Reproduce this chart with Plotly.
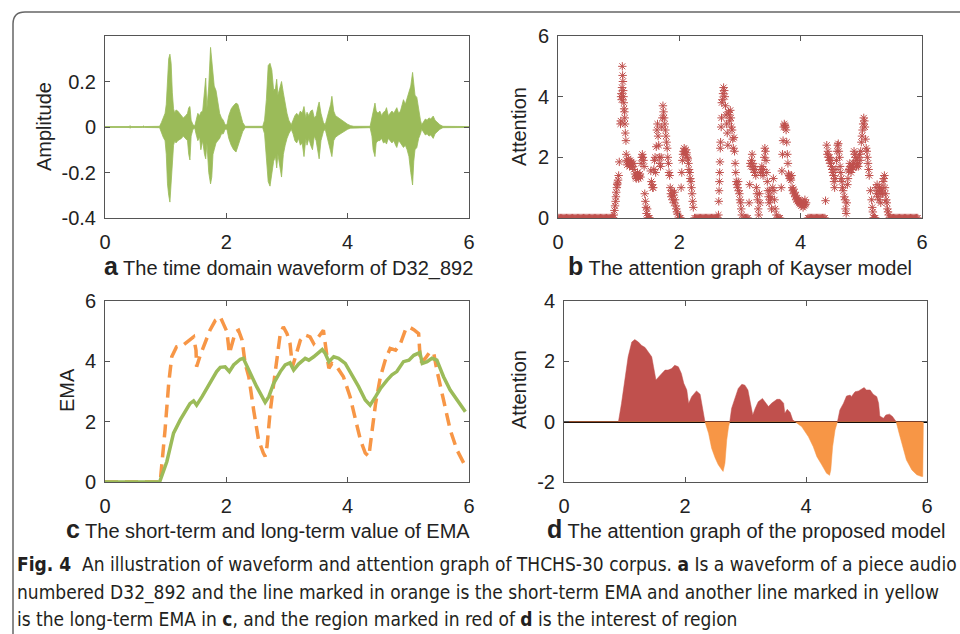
import plotly.graph_objects as go

# ---------------- data ----------------
# (a) waveform envelope of D32_892 (time s, upper / lower amplitude)
A_T = [0.00, 0.40, 0.41, 0.43, 0.62, 0.63, 0.65, 0.90, 0.93, 0.96, 0.99, 1.01, 1.03, 1.05, 1.07, 1.09,
       1.11, 1.13, 1.15, 1.17, 1.20, 1.23, 1.26, 1.29, 1.33, 1.36, 1.38, 1.40, 1.42, 1.45, 1.48, 1.50,
       1.53, 1.56, 1.58, 1.61, 1.64, 1.66, 1.68, 1.71, 1.74, 1.76, 1.78, 1.80, 1.83, 1.86, 1.89, 1.92,
       1.95, 1.98, 2.01, 2.04, 2.08, 2.12, 2.16, 2.19, 2.23, 2.27, 2.31, 2.60, 2.63, 2.66, 2.69, 2.72,
       2.75, 2.78, 2.81, 2.83, 2.85, 2.88, 2.91, 2.94, 2.97, 3.00, 3.03, 3.07, 3.10, 3.13, 3.16, 3.19,
       3.22, 3.25, 3.28, 3.31, 3.33, 3.36, 3.39, 3.42, 3.45, 3.48, 3.51, 3.53, 3.56, 3.60, 3.63, 3.66,
       3.69, 3.72, 3.74, 3.77, 3.80, 3.85, 3.90, 3.95, 4.00, 4.05, 4.10, 4.37, 4.40, 4.42, 4.45, 4.47,
       4.50, 4.53, 4.56, 4.59, 4.62, 4.64, 4.67, 4.70, 4.73, 4.76, 4.79, 4.81, 4.84, 4.87, 4.90, 4.92,
       4.95, 4.98, 5.01, 5.04, 5.07, 5.09, 5.11, 5.14, 5.17, 5.20, 5.22, 5.25, 5.28, 5.31, 5.34, 5.37,
       5.41, 5.44, 5.48, 5.52, 5.57, 6.00]
A_UP = [0.002, 0.002, 0.006, 0.002, 0.002, 0.005, 0.002, 0.003, 0.02, 0.04, 0.06, 0.10, 0.22, 0.30, 0.32, 0.28,
        0.15, 0.08, 0.06, 0.075, 0.07, 0.06, 0.05, 0.04, 0.05, 0.06, 0.085, 0.09, 0.03, 0.01, 0.005, 0.03,
        0.06, 0.05, 0.065, 0.07, 0.16, 0.215, 0.08, 0.18, 0.35, 0.30, 0.22, 0.18, 0.16, 0.10, 0.06, 0.04,
        0.03, 0.01, 0.01, 0.05, 0.08, 0.095, 0.105, 0.10, 0.06, 0.02, 0.003, 0.003, 0.03, 0.12, 0.27, 0.28,
        0.25, 0.16, 0.17, 0.21, 0.14, 0.17, 0.20, 0.15, 0.10, 0.06, 0.03, 0.01, 0.03, 0.05, 0.06, 0.05,
        0.07, 0.06, 0.09, 0.04, 0.065, 0.05, 0.07, 0.075, 0.04, 0.05, 0.09, 0.11, 0.06, 0.02, 0.01, 0.04,
        0.07, 0.10, 0.135, 0.07, 0.05, 0.04, 0.03, 0.02, 0.012, 0.006, 0.003, 0.003, 0.04, 0.08, 0.105, 0.07,
        0.06, 0.07, 0.05, 0.065, 0.07, 0.085, 0.05, 0.06, 0.07, 0.06, 0.075, 0.085, 0.06, 0.07, 0.10, 0.12,
        0.10, 0.13, 0.15, 0.18, 0.24, 0.17, 0.14, 0.13, 0.07, 0.03, 0.01, 0.02, 0.035, 0.03, 0.04, 0.035,
        0.048, 0.03, 0.02, 0.01, 0.003, 0.002]
A_LO = [-0.002, -0.002, -0.005, -0.002, -0.002, -0.004, -0.002, -0.003, -0.02, -0.045, -0.06, -0.12, -0.25, -0.30, -0.33, -0.26,
        -0.17, -0.08, -0.06, -0.07, -0.06, -0.055, -0.05, -0.04, -0.05, -0.06, -0.12, -0.145, -0.04, -0.01, -0.005, -0.03,
        -0.06, -0.045, -0.10, -0.06, -0.12, -0.14, -0.07, -0.20, -0.25, -0.22, -0.12, -0.10, -0.07, -0.06, -0.05, -0.03,
        -0.03, -0.01, -0.01, -0.05, -0.08, -0.10, -0.11, -0.09, -0.05, -0.02, -0.003, -0.003, -0.03, -0.15, -0.24, -0.26,
        -0.20, -0.15, -0.13, -0.18, -0.12, -0.16, -0.22, -0.12, -0.08, -0.05, -0.03, -0.01, -0.03, -0.06, -0.07, -0.05,
        -0.08, -0.07, -0.13, -0.05, -0.08, -0.05, -0.08, -0.10, -0.04, -0.06, -0.10, -0.14, -0.06, -0.02, -0.01, -0.05,
        -0.08, -0.11, -0.13, -0.06, -0.045, -0.035, -0.025, -0.018, -0.01, -0.005, -0.003, -0.003, -0.04, -0.10, -0.13, -0.07,
        -0.06, -0.06, -0.05, -0.07, -0.065, -0.075, -0.05, -0.06, -0.07, -0.06, -0.08, -0.09, -0.06, -0.07, -0.08, -0.09,
        -0.08, -0.10, -0.13, -0.20, -0.255, -0.15, -0.10, -0.09, -0.05, -0.03, -0.01, -0.02, -0.035, -0.03, -0.04, -0.035,
        -0.05, -0.03, -0.02, -0.01, -0.003, -0.002]

# (b) Kayser attention: non-zero samples
B_T = [0.92, 0.93, 0.94, 0.95, 0.955, 0.96, 0.97, 0.975, 0.98, 0.99, 1.00, 1.01,
       1.03, 1.035, 1.04, 1.045, 1.05, 1.055, 1.06, 1.065, 1.07, 1.075, 1.08, 1.085, 1.09, 1.095, 1.10, 1.105, 1.11, 1.12, 1.125, 1.13,
       1.14, 1.15, 1.16, 1.17, 1.18, 1.19, 1.20, 1.21, 1.22, 1.23, 1.24, 1.25,
       1.27, 1.28, 1.29, 1.30, 1.31, 1.32, 1.33, 1.34, 1.35, 1.36,
       1.37, 1.38, 1.39, 1.40, 1.41, 1.42,
       1.43, 1.44, 1.45, 1.46, 1.47,
       1.53, 1.54, 1.55, 1.56, 1.57, 1.58, 1.59, 1.60, 1.61, 1.62,
       1.63, 1.64, 1.65, 1.66, 1.67, 1.68, 1.69, 1.70,
       1.71, 1.72, 1.73, 1.74, 1.75, 1.76, 1.77, 1.78, 1.79, 1.80, 1.81, 1.82, 1.83, 1.84,
       1.85, 1.86, 1.87, 1.88, 1.89, 1.90, 1.91, 1.92, 1.93, 1.94, 1.95, 1.96, 1.97,
       2.03, 2.04, 2.05, 2.06, 2.07, 2.08, 2.09, 2.10, 2.11, 2.12, 2.13, 2.14, 2.15, 2.16, 2.17, 2.18, 2.19, 2.20, 2.21, 2.22, 2.23,
       2.645, 2.65, 2.655, 2.66, 2.665, 2.67, 2.675, 2.68, 2.69, 2.695,
       2.70, 2.71, 2.72, 2.73, 2.74, 2.75, 2.76, 2.77, 2.78, 2.79, 2.80,
       2.81, 2.82, 2.83, 2.84, 2.85, 2.86, 2.87, 2.88, 2.89, 2.90, 2.91, 2.92,
       2.93, 2.94, 2.95, 2.96, 2.97, 2.98, 2.99, 3.00, 3.01, 3.02, 3.03,
       3.15, 3.16, 3.17, 3.18, 3.19, 3.20, 3.21, 3.22, 3.23, 3.24, 3.25, 3.26, 3.27, 3.28, 3.29, 3.30, 3.31,
       3.32, 3.33, 3.34, 3.35, 3.36, 3.37, 3.38, 3.39, 3.40, 3.41, 3.42, 3.43, 3.44, 3.45, 3.46, 3.47, 3.48,
       3.49, 3.50, 3.51, 3.52, 3.54, 3.55, 3.56, 3.57, 3.58, 3.60,
       3.68, 3.69, 3.70, 3.71, 3.72, 3.73, 3.74, 3.75, 3.76, 3.77, 3.78, 3.79,
       3.80, 3.81, 3.82, 3.83, 3.84, 3.85, 3.86, 3.87, 3.88, 3.89, 3.90, 3.91, 3.92, 3.93, 3.94, 3.95,
       3.96, 3.97, 3.98, 3.99, 4.00, 4.01, 4.02, 4.03, 4.04, 4.05, 4.06, 4.07, 4.08, 4.09,
       4.41, 4.43, 4.44, 4.45, 4.46, 4.47, 4.48, 4.49, 4.50, 4.51, 4.52, 4.53, 4.54, 4.55,
       4.56, 4.57, 4.58, 4.59, 4.60, 4.61, 4.62, 4.63, 4.64, 4.65, 4.66, 4.67, 4.68, 4.69, 4.70,
       4.72, 4.73, 4.74, 4.75, 4.76, 4.77, 4.78, 4.79,
       4.80, 4.81, 4.82, 4.83, 4.84, 4.85, 4.86, 4.87, 4.88, 4.89, 4.90, 4.91, 4.92, 4.93, 4.94, 4.95, 4.96, 4.97, 4.98, 4.99,
       5.00, 5.01, 5.02, 5.03, 5.04, 5.05, 5.06, 5.07, 5.08, 5.09, 5.10, 5.11, 5.12, 5.13,
       5.15, 5.17, 5.18, 5.19,
       5.24, 5.25, 5.26, 5.27, 5.28, 5.29, 5.30, 5.31, 5.32, 5.33, 5.34, 5.35, 5.36, 5.37, 5.38, 5.39, 5.40, 5.41, 5.42, 5.43, 5.44, 5.45]
B_V = [0.10, 0.25, 0.40, 0.55, 0.70, 0.85, 1.00, 1.10, 1.15, 1.25, 1.40, 1.85,
       3.10, 3.20, 4.00, 4.10, 3.90, 4.30, 5.00, 4.70, 4.50, 4.20, 4.00, 3.80, 3.60, 3.50, 3.30, 3.10, 2.80, 2.55, 2.10, 1.90,
       1.75, 1.85, 1.95, 1.80, 1.70, 1.90, 1.80, 1.85, 1.75, 1.70, 1.80, 1.60,
       1.45, 1.35, 1.30, 1.40, 1.50, 1.35, 1.30, 1.40, 1.45, 1.35,
       1.80, 2.00, 2.10, 2.00, 1.90, 1.70,
       0.80, 0.55, 0.35, 0.15, 0.30,
       1.55, 1.20, 1.10, 1.00, 1.00, 1.60, 1.90, 2.00, 1.50, 2.35,
       2.90, 3.10, 2.70, 2.40, 2.00, 1.80, 1.70, 2.00,
       3.00, 3.30, 3.70, 3.50, 3.30, 3.10, 2.90, 2.70, 2.50, 2.30, 2.00, 1.80, 1.50, 1.40,
       1.00, 0.80, 0.70, 0.90, 0.60, 0.75, 0.50, 0.85, 0.60, 0.40, 0.30, 0.20, 0.13,
       1.00, 1.50, 1.90, 2.10, 2.20, 2.30, 2.20, 2.10, 2.25, 2.15, 2.00, 1.95, 1.80, 1.60, 1.50, 1.30, 1.20, 1.00, 0.80, 0.55, 0.35,
       0.10, 0.55, 0.90, 1.20, 1.50, 1.85, 2.30, 2.50, 3.00, 3.30,
       3.80, 3.90, 4.10, 4.30, 4.20, 4.00, 3.70, 3.40, 3.10, 2.80, 2.40,
       3.50, 3.40, 3.20, 3.55, 3.30, 3.00, 2.90, 2.60, 2.30, 2.65, 2.20, 1.80,
       1.50, 1.20, 1.10, 1.00, 1.20, 0.90, 0.80, 0.60, 0.50, 0.30, 0.10,
       0.50, 1.10, 1.80, 1.70, 1.90, 2.10, 1.80, 1.60, 1.70, 1.50, 1.60, 1.40, 1.00, 0.80, 0.60, 0.30, 0.10,
       0.80, 0.50, 1.50, 1.60, 1.70, 1.50, 1.40, 1.60, 2.00, 2.30, 2.20, 1.90, 1.50, 1.20, 0.90, 0.70, 0.50,
       0.90, 0.60, 0.70, 0.30, 1.00, 1.30, 0.90, 0.60, 0.30, 0.10,
       1.00, 1.55, 2.10, 2.55, 3.00, 3.10, 3.05, 3.00, 2.90, 2.50, 2.10, 1.80,
       1.45, 1.40, 1.30, 1.35, 1.25, 1.40, 1.00, 0.90, 0.95, 0.80, 0.85, 0.70, 0.75, 0.60, 0.65, 0.55,
       0.60, 0.50, 0.55, 0.45, 0.50, 0.40, 0.55, 0.45, 0.35, 0.50, 0.40, 0.60, 0.45, 0.50,
       0.57, 2.40, 2.10, 2.20, 2.00, 1.90, 2.00, 1.80, 1.90, 1.70, 1.60, 1.50, 1.40, 1.20,
       1.00, 1.30, 1.60, 1.90, 2.20, 2.40, 2.45, 2.20, 2.00, 1.70, 1.50, 1.30, 1.20, 1.00, 0.90,
       0.70, 0.60, 0.30, 0.15, 0.50, 1.10, 1.30, 1.55,
       1.60, 1.80, 1.70, 1.50, 1.60, 1.75, 1.65, 1.80, 2.20, 2.10, 2.00, 1.90, 1.70, 1.75, 1.80, 1.70, 2.00, 2.10, 1.90, 2.20,
       2.50, 2.70, 2.90, 3.10, 3.30, 3.20, 3.00, 2.60, 2.30, 2.20, 2.00, 1.80, 1.60, 1.40,
       0.90, 0.60, 0.35, 0.20,
       1.00, 0.80, 1.10, 0.70, 0.90, 0.60, 1.00, 0.80, 0.50, 0.90, 1.00, 0.80, 1.20, 1.30, 1.40, 1.00, 0.80, 0.60, 0.50, 0.30, 0.20, 0.10]
# (b) samples where the attention is zero
B_ZERO_T = [0.00, 0.02, 0.04, 0.06, 0.08, 0.10, 0.12, 0.14, 0.16, 0.18, 0.20, 0.22, 0.24, 0.26, 0.28, 0.30,
            0.32, 0.34, 0.36, 0.38, 0.40, 0.42, 0.44, 0.46, 0.48, 0.50, 0.52, 0.54, 0.56, 0.58, 0.60, 0.62,
            0.64, 0.66, 0.68, 0.70, 0.72, 0.74, 0.76, 0.78, 0.80, 0.82, 0.84, 0.86, 0.88, 0.90, 0.91,
            1.48, 1.49, 1.50, 1.51, 2.00, 2.01, 2.02,
            2.25, 2.27, 2.29, 2.31, 2.33, 2.35, 2.37, 2.39, 2.41, 2.43, 2.45, 2.47, 2.49, 2.51, 2.53, 2.55,
            2.57, 2.59, 2.61, 2.63,
            3.07, 3.09, 3.11, 3.13, 3.62, 3.64, 3.66,
            4.12, 4.14, 4.16, 4.18, 4.20, 4.22, 4.24, 4.26, 4.28, 4.30, 4.32, 4.34, 4.36, 4.38, 4.40,
            5.20, 5.21, 5.22, 5.23,
            5.47, 5.49, 5.51, 5.53, 5.55, 5.57, 5.59, 5.61, 5.63, 5.65, 5.67, 5.69, 5.71, 5.73, 5.75, 5.77,
            5.79, 5.81, 5.83, 5.85, 5.87, 5.89, 5.91, 5.93]

# (c) long-term EMA (green, solid)
C_LONG_T = [0.00, 0.90, 1.02, 1.13, 1.24, 1.32, 1.40, 1.46, 1.51, 1.60, 1.68, 1.76, 1.84, 1.90, 1.98, 2.05,
            2.12, 2.23, 2.28, 2.37, 2.50, 2.64, 2.70, 2.78, 2.89, 2.97, 3.05, 3.11, 3.19, 3.30, 3.36, 3.44,
            3.52, 3.58, 3.63, 3.69, 3.77, 3.85, 3.96, 4.04, 4.18, 4.29, 4.37, 4.46, 4.54, 4.65, 4.73, 4.81,
            4.92, 5.01, 5.09, 5.19, 5.23, 5.31, 5.39, 5.47, 5.58, 5.69, 5.80, 5.94]
C_LONG_V = [0.00, 0.00, 0.68, 1.62, 2.06, 2.33, 2.60, 2.69, 2.55, 2.83, 3.10, 3.38, 3.66, 3.80, 3.82, 3.66,
            3.88, 4.07, 4.10, 3.71, 3.16, 2.64, 2.83, 3.27, 3.66, 3.88, 3.95, 3.71, 3.91, 4.10, 4.04, 4.15,
            4.28, 4.39, 4.26, 3.99, 4.15, 4.10, 3.93, 3.66, 3.16, 2.72, 2.55, 2.83, 3.10, 3.38, 3.55, 3.66,
            3.99, 4.04, 4.20, 4.29, 3.93, 3.99, 4.10, 4.04, 3.49, 3.05, 2.72, 2.33]
# (c) short-term EMA (orange, dashed)
C_SHORT_T = [0.00, 0.91, 0.99, 1.05, 1.10, 1.18, 1.29, 1.40, 1.46, 1.50, 1.51, 1.57, 1.65, 1.73, 1.82, 1.90,
             1.95, 2.01, 2.05, 2.09, 2.15, 2.20, 2.26, 2.31, 2.37, 2.45, 2.53, 2.61, 2.64, 2.67, 2.72, 2.81,
             2.89, 2.94, 3.00, 3.05, 3.09, 3.14, 3.22, 3.30, 3.38, 3.44, 3.52, 3.60, 3.66, 3.69, 3.74, 3.82,
             3.93, 4.04, 4.13, 4.21, 4.29, 4.35, 4.37, 4.46, 4.54, 4.62, 4.70, 4.79, 4.87, 4.95, 5.01, 5.09,
             5.17, 5.20, 5.28, 5.36, 5.42, 5.47, 5.58, 5.69, 5.80, 5.94]
C_SHORT_V = [0.00, 0.00, 1.73, 3.27, 4.15, 4.48, 4.54, 4.70, 4.81, 4.37, 3.82, 4.20, 4.59, 5.03, 5.36, 5.47,
             5.25, 4.98, 4.26, 4.59, 4.98, 5.03, 4.70, 3.93, 3.49, 2.39, 1.40, 0.96, 0.85, 1.18, 2.28, 3.71,
             4.92, 5.14, 4.92, 4.59, 3.82, 4.15, 4.70, 4.87, 4.81, 4.59, 4.81, 5.03, 4.15, 3.77, 3.93, 3.82,
             3.49, 2.83, 2.06, 1.40, 0.96, 0.85, 1.18, 2.60, 3.49, 4.04, 4.43, 4.37, 4.59, 5.03, 5.14, 5.05,
             4.92, 3.93, 4.10, 4.32, 4.26, 3.71, 2.72, 1.73, 1.07, 0.52]

# (d) attention of the proposed model
D_T = [0.00, 0.90, 0.95, 1.01, 1.06, 1.12, 1.17, 1.23, 1.28, 1.34, 1.39, 1.45, 1.48, 1.52, 1.59, 1.67,
       1.72, 1.78, 1.83, 1.89, 1.94, 1.98, 2.03, 2.06, 2.11, 2.19, 2.25, 2.29, 2.33,
       2.39, 2.44, 2.50, 2.55, 2.61, 2.63, 2.66, 2.69, 2.72, 2.74,
       2.77, 2.83, 2.88, 2.94, 2.99, 3.04, 3.07, 3.12, 3.16, 3.21, 3.28, 3.34, 3.38, 3.43, 3.52, 3.57,
       3.63, 3.65, 3.69, 3.74, 3.78, 3.82,
       3.93, 4.04, 4.12, 4.18, 4.26, 4.34, 4.39, 4.41, 4.44, 4.48, 4.52,
       4.56, 4.62, 4.67, 4.73, 4.75, 4.81, 4.87, 4.92, 4.96, 5.00, 5.06, 5.11, 5.17, 5.20, 5.22, 5.28,
       5.32, 5.38, 5.43, 5.49,
       5.54, 5.60, 5.66, 5.75, 5.83, 5.91, 5.93, 5.94]
D_V = [0.00, 0.00, 0.60, 1.38, 2.15, 2.64, 2.72, 2.64, 2.53, 2.46, 2.31, 2.15, 1.82, 1.38, 1.54, 1.71,
       1.71, 1.76, 1.87, 1.82, 1.60, 1.27, 1.05, 0.60, 0.83, 1.02, 0.91, 0.50, 0.00,
       -0.39, -0.88, -1.21, -1.43, -1.60, -1.65, -1.38, -0.61, -0.17, 0.00,
       0.44, 0.83, 1.10, 1.24, 1.21, 1.05, 0.72, 0.22, 0.44, 0.66, 0.77, 0.61, 0.50, 0.61, 0.74, 0.74,
       0.61, 0.28, 0.41, 0.30, 0.06, 0.00,
       -0.17, -0.50, -0.83, -1.16, -1.43, -1.71, -1.78, -1.60, -0.83, -0.28, 0.00,
       0.39, 0.61, 0.85, 0.88, 0.83, 0.99, 1.02, 1.07, 1.13, 1.05, 1.05, 0.91, 0.83, 0.61, 0.19, 0.11,
       0.22, 0.25, 0.17, 0.00,
       -0.39, -0.83, -1.27, -1.60, -1.76, -1.82, -1.82, 0.00]

# tick labels
X_TICKS = [0, 2, 4, 6]
A_TICKS = [-0.4, -0.2, 0, 0.2]
A_TICK_TEXT = ["-0.4", "-0.2", "0", "0.2"]
B_TICKS = [0, 2, 4, 6]
C_TICKS = [0, 2, 4, 6]
D_TICKS = [-2, 0, 2, 4]
D_TICK_TEXT = ["-2", "0", "2", "4"]

# ---------------- styling ----------------
W, H = 960, 634
FONT = "Liberation Sans, Arial, Helvetica, sans-serif"
CAP_FONT = "Liberation Sans Narrow, DejaVu Sans Condensed, Liberation Sans, sans-serif"
TXT = "#222222"
AX = "#555555"
GREEN = "#9BBB59"
RED = "#C0504D"
ORANGE = "#F79646"


def fx(p):
    return p / W


def fy(p):
    return 1 - p / H


fig = go.Figure()

# (a) waveform as filled envelope
fig.add_trace(go.Scatter(
    x=A_T + A_T[::-1], y=A_UP + A_LO[::-1], fill="toself", mode="lines",
    line=dict(color=GREEN, width=0.8), fillcolor=GREEN, xaxis="x", yaxis="y",
    hoverinfo="skip", showlegend=False))

# (b) scatter of asterisks
fig.add_trace(go.Scatter(
    x=B_ZERO_T, y=[0] * len(B_ZERO_T), mode="markers", xaxis="x2", yaxis="y2",
    marker=dict(symbol="asterisk-open", size=7, color=RED, line=dict(color=RED, width=1)),
    showlegend=False))
fig.add_trace(go.Scatter(
    x=B_T, y=B_V, mode="markers", xaxis="x2", yaxis="y2",
    marker=dict(symbol="asterisk-open", size=7, color=RED, line=dict(color=RED, width=1)),
    showlegend=False))

# (c) EMA lines
fig.add_trace(go.Scatter(
    x=C_SHORT_T, y=C_SHORT_V, mode="lines", xaxis="x3", yaxis="y3",
    line=dict(color=ORANGE, width=3.5, dash="13px,7px"), showlegend=False))
fig.add_trace(go.Scatter(
    x=C_LONG_T, y=C_LONG_V, mode="lines", xaxis="x3", yaxis="y3",
    line=dict(color=GREEN, width=3.5), showlegend=False))

# (d) split the attention by sign
D_POS = [max(v, 0) for v in D_V]
D_NEG = [min(v, 0) for v in D_V]
fig.add_trace(go.Scatter(
    x=D_T, y=D_POS, mode="lines", fill="tozeroy", xaxis="x4", yaxis="y4",
    line=dict(color=RED, width=0.5), fillcolor=RED, showlegend=False))
fig.add_trace(go.Scatter(
    x=D_T, y=D_NEG, mode="lines", fill="tozeroy", xaxis="x4", yaxis="y4",
    line=dict(color=ORANGE, width=0.5), fillcolor=ORANGE, showlegend=False))

axis_common = dict(
    showline=True, linecolor=AX, linewidth=1, mirror="ticks", ticks="inside",
    ticklen=5, tickwidth=1, tickcolor=AX, showgrid=False, zeroline=False,
    automargin=False,
    tickfont=dict(family=FONT, size=20, color=TXT),
)

panels = {
    "": ([105, 469], [36, 218]),
    "2": ([558, 922], [36, 218]),
    "3": ([105, 469], [301, 482]),
    "4": ([564, 927], [301, 482]),
}
yinfo = {
    "": ([-0.4, 0.4], A_TICKS, A_TICK_TEXT),
    "2": ([0, 6], B_TICKS, [str(t) for t in B_TICKS]),
    "3": ([0, 6], C_TICKS, [str(t) for t in C_TICKS]),
    "4": ([-2, 4], D_TICKS, D_TICK_TEXT),
}
layout = {}
for k, (xd, yd) in panels.items():
    yr, yt, ytt = yinfo[k]
    layout["xaxis" + k] = dict(
        axis_common, domain=[fx(xd[0]), fx(xd[1])], range=[0, 6],
        tickvals=X_TICKS, ticktext=[str(t) for t in X_TICKS],
        anchor="y" + k, ticklabelstandoff=6)
    layout["yaxis" + k] = dict(
        axis_common, domain=[fy(yd[1]), fy(yd[0])], range=yr,
        tickvals=yt, ticktext=ytt, anchor="x" + k, ticklabelstandoff=4)
layout["yaxis4"]["zeroline"] = True
layout["yaxis4"]["zerolinecolor"] = "#000000"
layout["yaxis4"]["zerolinewidth"] = 1.5

annotations = []
# axis titles
for text, xp, yp in [("Amplitude", 44, 127), ("Attention", 519, 127),
                     ("EMA", 67, 390), ("Attention", 519, 390)]:
    annotations.append(dict(
        text=text, x=fx(xp), y=fy(yp), xref="paper", yref="paper", textangle=-90,
        showarrow=False, font=dict(family=FONT, size=20, color=TXT),
        xanchor="center", yanchor="middle"))

# panel sub-captions
for letter, text, xp, yp in [
        ("a", "The time domain waveform of D32_892", 288, 266),
        ("b", "The attention graph of Kayser model", 740, 266),
        ("c", "The short-term and long-term value of EMA", 268, 529),
        ("d", "The attention graph of the proposed model", 746, 529)]:
    annotations.append(dict(
        text=f'<span style="font-size:25px"><b>{letter}</b></span> {text}',
        x=fx(xp), y=fy(yp), xref="paper", yref="paper", showarrow=False,
        font=dict(family=FONT, size=20, color=TXT), xanchor="center", yanchor="middle"))

# figure caption
CAPTION = [
    "<b>Fig. 4</b>  An illustration of waveform and attention graph of THCHS-30 corpus. "
    "<b>a</b> Is a waveform of a piece audio",
    "numbered D32_892 and the line marked in orange is the short-term EMA and another line marked in yellow",
    "is the long-term EMA in <b>c</b>, and the region marked in red of <b>d</b> is the interest of region",
]
for line, yp in zip(CAPTION, [564, 592, 619]):
    annotations.append(dict(
        text=line, x=fx(15), y=fy(yp), xref="paper", yref="paper", showarrow=False,
        font=dict(family=CAP_FONT, size=19, color="#231F20"), xanchor="left", yanchor="middle"))

# rounded frame (top-left corner)
frame = dict(
    type="path", xref="paper", yref="paper",
    path=f"M {fx(13)},{fy(640)} L {fx(13)},{fy(24)} Q {fx(13)},{fy(12)} {fx(25)},{fy(12)} L {fx(965)},{fy(12)}",
    line=dict(color="#666666", width=1.5))

fig.update_layout(
    width=W, height=H, margin=dict(l=0, r=0, t=0, b=0, pad=0), autosize=False,
    paper_bgcolor="white", plot_bgcolor="white",
    annotations=annotations, shapes=[frame], showlegend=False,
    **layout)

fig.write_html(
    "out.html",
    config={"displayModeBar": False},
    post_script="document.body.style.margin='0';document.body.style.padding='0';"
                "document.body.style.overflow='hidden';")
